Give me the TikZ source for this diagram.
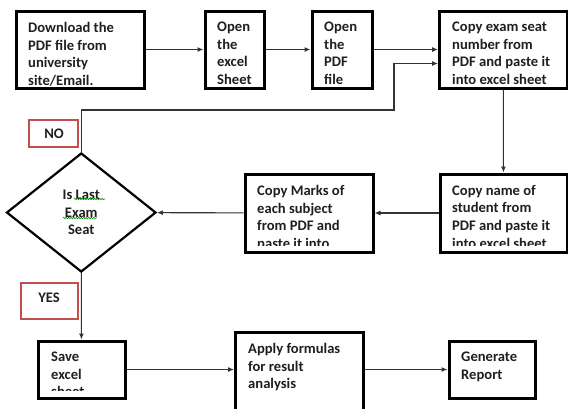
\documentclass[tikz,border=0pt]{standalone}
\usepackage{fontspec}
\setmainfont{Carlito}
\usetikzlibrary{arrows.meta,shapes.geometric,fit,decorations.pathmorphing}
\definecolor{tagred}{HTML}{C0504D}
\newcommand{\mkbox}[5]{% #1: name, #2: x1, #3: y1, #4: x2, #5: y2
	\node[flowbox,fit={(#2,#3) (#4,#5)}] (#1) {};
}
\newcommand{\mktxt}[4]{% #1: name, #2: x, #3: y, #4: text
	\node[flowtxt] (#1) at (#2,#3) {#4};
}
\tikzset{
	flowbox/.style={draw,line width=3pt,inner sep=0pt},
	flowtxt/.style={anchor=north west,align=left,inner sep=0pt,font=\fontsize{14.6}{17.6}\selectfont\bfseries,text=black!88},
	tagbox/.style={draw=tagred,line width=2.6pt,inner sep=0pt},
	tagtxt/.style={inner sep=0pt,font=\fontsize{14.6}{17.6}\selectfont\bfseries,text=black!88},
	decision/.style={diamond,draw,line width=2.2pt,inner sep=0pt,minimum width=149.5pt,minimum height=119pt,align=center,font=\fontsize{14.6}{17.6}\selectfont\bfseries,text=black!88},
	link/.style={line width=1.1pt,draw=black!80,-{Latex[length=6pt,width=5pt]}},
	spell/.style={green!60!black,line width=0.6pt,decorate,decoration={snake,amplitude=0.7pt,segment length=2.5pt}},
}

\begin{document}
\begin{tikzpicture}[x=1pt,y=-1pt]
	\useasboundingbox (0,0) rectangle (568,408);
	
	% Top row
	\mkbox{b1}{16}{11}{144}{88}
	\mkbox{b2}{205}{11}{264.5}{88}
	\mkbox{b3}{312}{11}{372}{88}
	\mkbox{b4}{439.5}{11}{567}{88}
	\mktxt{b1txt}{28}{22}{Download the\\PDF file from\\university\\site/Email.}
	\mktxt{b2txt}{217}{22}{Open\\the\\excel\\Sheet}
	\mktxt{b3txt}{324}{22}{Open\\the\\PDF\\file}
	\mktxt{b4txt}{452}{22}{Copy exam seat\\number from\\PDF and paste it\\into excel sheet}
	
	% Middle row
	\mkbox{b5}{440}{174}{567}{252}
	\mkbox{b6}{245}{174}{373}{252}
	\begin{scope}
		\clip (440,174) rectangle (567,245);
		\mktxt{b5txt}{452}{185}{Copy name of\\student from\\PDF and paste it\\into excel sheet}
	\end{scope}
	\begin{scope}
		\clip (245,174) rectangle (373,245);
		\mktxt{b6txt}{257}{185}{Copy Marks of\\each subject\\from PDF and\\paste it into}
	\end{scope}
	
	% Decision
	\node[decision] (d) at (81.25,212.5) {Is Last\\Exam\\Seat};
	\draw[spell] (74,199) -- (105,199);
	\draw[spell] (63,218) -- (97,218);
	
	% NO and YES tags
	\node[tagbox,fit={(29,120) (78,147)}] (nobox) {};
	\node[tagtxt] (no) at (54,134) {NO};
	\node[tagbox,fit={(21,283) (78,319)}] (yesbox) {};
	\node[tagtxt] (yes) at (49,298) {YES};
	
	% Bottom row
	\mkbox{save}{38}{341}{125}{398}
	\mkbox{apply}{235.5}{332}{363}{412}
	\mkbox{gen}{449}{341}{535.5}{398}
	\begin{scope}
		\clip (38,341) rectangle (125,390);
		\mktxt{savetxt}{51}{352}{Save\\excel\\sheet}
	\end{scope}
	\mktxt{applytxt}{248}{343}{Apply formulas\\for result\\analysis}
	\mktxt{gentxt}{461}{352}{Generate\\Report}
	
	% Connectors
	\draw[link] (b1) -- (b2);
	\draw[link] (b2) -- (b3);
	\draw[link] (b3) -- (b4);
	\draw[link] (b4) -- (b5);
	\draw[link] (b5) -- (b6);
	\draw[link] (b6) -- (d);
	\coordinate (fb) at (394,110);
	\draw[link] (d.north) |- (fb) |- ([yshift=-14pt]b4.west);
	\draw[link] (d) -- (save);
	\draw[link] (save.east) -- (save.east -| apply.west);
	\draw[link] (gen.west -| apply.east) -- (gen.west);
\end{tikzpicture}
\end{document}
